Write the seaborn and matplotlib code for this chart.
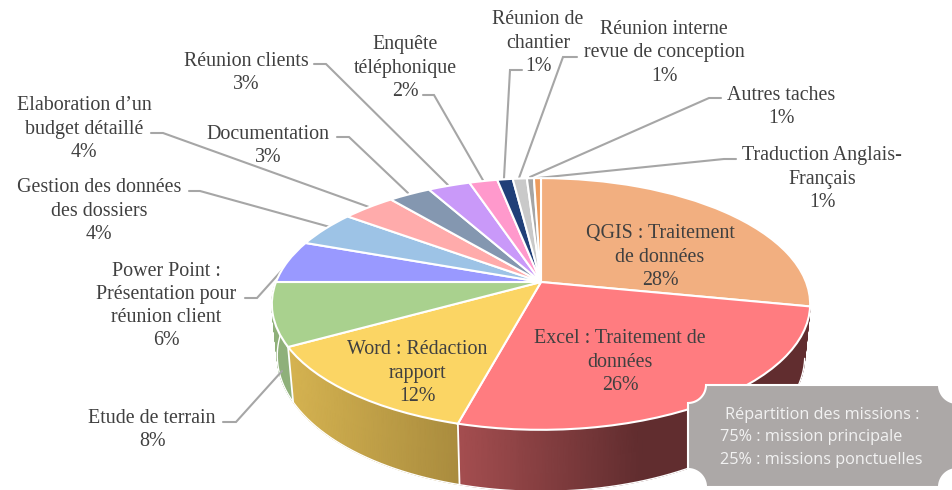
import numpy as np
import seaborn as sns
import matplotlib.pyplot as plt
from matplotlib.colors import LinearSegmentedColormap
from matplotlib.transforms import Transform

sns.set_theme(style='white')
plt.rcParams['font.family'] = ['Liberation Serif', 'DejaVu Serif']

# share of each task (the printed labels are rounded)
tasks = ['QGIS : Traitement\nde données', 'Excel : Traitement de\ndonnées', 'Word : Rédaction\nrapport',
         'Etude de terrain', 'Power Point :\nPrésentation pour\nréunion client',
         'Gestion des données\ndes dossiers', 'Elaboration d’un\nbudget détaillé', 'Documentation',
         'Réunion clients', 'Enquête\ntéléphonique', 'Réunion de\nchantier',
         'Réunion interne\nrevue de conception', 'Autres taches', 'Traduction Anglais-\nFrançais']
shares = [28.1, 26.1, 12.7, 8.1, 5.5, 4.6, 3.8, 3.0, 3.0, 2.0, 1.1, 1.0, 0.5, 0.5]
pct_labels = ['28%', '26%', '12%', '8%', '6%', '4%', '4%', '3%', '3%', '2%', '1%', '1%', '1%', '1%']
slice_colors = ['#F2AF80', '#FF7C80', '#FBD564', '#A9D18E', '#9999FF', '#9DC3E6', '#FFABAB',
                '#8497B0', '#C999F9', '#FF99CC', '#203F78', '#C9C9C9', '#A5A5A5', '#ED9B5C']

# label centres in pixels, leader lines as (label end, elbow, slice end)
label_pos = [(660, 257), (620, 362), (417, 373), (152, 430), (166, 306), (99, 211), (84, 129),
             (268, 146), (246, 73), (405, 68), (538, 43), (664, 53), (781, 107), (822, 179)]
leaders = {3: [(223, 422), (236, 422), (282, 371)],
           4: [(245, 298), (257, 298), (292, 259)],
           5: [(189, 191), (200, 191), (330, 227)],
           6: [(151, 133), (163, 133), (369, 207)],
           7: [(337, 137), (349, 137), (408, 193)],
           8: [(314, 64), (326, 64), (448, 185)],
           9: [(423, 95), (434, 95), (484, 182)],
           10: [(522, 70), (510, 70), (504, 178)],
           11: [(577, 57), (563, 57), (519, 178)],
           12: [(721, 98), (709, 98), (530, 177)],
           13: [(736, 159), (724, 159), (538, 178)]}

# pie geometry in pixels
CX, CY, RX, RY, TILT = 541, 282, 265, 122, 0.1746


def project(xy):
    xy = np.asarray(xy, dtype=float)
    w = 1 + TILT * xy[:, 1]
    return np.column_stack([CX + RX * xy[:, 0] / w, CY - RY * xy[:, 1] / w])


class Tilted(Transform):
    input_dims = 2
    output_dims = 2

    def transform_non_affine(self, values):
        return project(values)


fig = plt.figure(figsize=(9.52, 4.9), dpi=100)
ax = fig.add_axes([0, 0, 1, 1])

# side wall: colour goes left to right across each slice
side_colors = {1: ((458, '#A54E50'), (640, '#612D2F')),
               2: ((294, '#D4B250'), (458, '#AA8C3E')),
               3: ((275, '#8FB07A'), (294, '#8FB07A'))}
edges = np.concatenate([[0], np.cumsum(shares)]) / 100 * 2 * np.pi


def wall(angles):
    top = project(np.column_stack([np.sin(angles), np.cos(angles)]))
    low = np.column_stack([CX + 0.98 * (top[:, 0] - CX), CY + 50 + 1.078 * (top[:, 1] - CY)])
    return top, low


for i, ((x0, c0), (x1, c1)) in side_colors.items():
    top, low = wall(np.linspace(edges[i], edges[i + 1], 90))
    xs = np.vstack([top[:, 0], low[:, 0]])
    ys = np.vstack([top[:, 1], low[:, 1]])
    t = np.clip((xs - x0) / (x1 - x0), 0, 1)
    cmap = LinearSegmentedColormap.from_list('side', [c0, c1])
    ax.pcolormesh(xs, ys, t, cmap=cmap, vmin=0, vmax=1, shading='gouraud', zorder=1)

# white seams between the visible wall pieces, and a thin rim to soften the mesh edge
for e in (edges[2], edges[3]):
    top, low = wall(np.array([e]))
    ax.plot([top[0, 0], low[0, 0]], [top[0, 1], low[0, 1]], color='white', lw=1.3, zorder=2)
top, low = wall(np.linspace(edges[1], edges[4], 300))
ax.plot(low[:, 0], low[:, 1], color='white', lw=1.0, zorder=2)

wedges, _ = ax.pie(shares, colors=slice_colors, startangle=90, counterclock=False,
                   wedgeprops={'edgecolor': 'white', 'linewidth': 1.5})
for wedge in wedges:
    wedge.set_transform(Tilted() + ax.transData)
    wedge.set_zorder(3)

ax.set_aspect('auto')
ax.set_xlim(0, 952)
ax.set_ylim(490, 0)
ax.axis('off')

for pts in leaders.values():
    ax.plot(*zip(*pts), color='#A6A6A6', lw=1.5, zorder=2.5, solid_joinstyle='miter')

for name, pct, (x, y) in zip(tasks, pct_labels, label_pos):
    ax.text(x, y, name + '\n' + pct, ha='center', va='center', fontsize=14.4,
            color='#404040', linespacing=1.29, zorder=4)

# note plaque with scooped corners
bx0, bx1, by0, by1, r = 688, 957, 385, 487, 18
arc = np.linspace(0, np.pi / 2, 20)
plaque_x = np.concatenate([bx0 + r * np.sin(arc), bx1 - r * np.cos(arc),
                           bx1 - r * np.sin(arc), bx0 + r * np.cos(arc)])
plaque_y = np.concatenate([by0 + r * np.cos(arc), by0 + r * np.sin(arc),
                           by1 - r * np.cos(arc), by1 - r * np.sin(arc)])
ax.fill(plaque_x, plaque_y, facecolor='#ACA8A7', edgecolor='white', lw=1.5, zorder=5)

note_lines = ['Répartition des missions :', '75% : mission principale', '25% : missions ponctuelles']
for line, x, y in zip(note_lines, [725, 720, 720], [415, 437, 460]):
    ax.text(x, y, line, ha='left', va='center', fontsize=11.7, family='Open Sans',
            color='#F2F2F2', zorder=6)

plt.savefig('out.png', dpi=100)
